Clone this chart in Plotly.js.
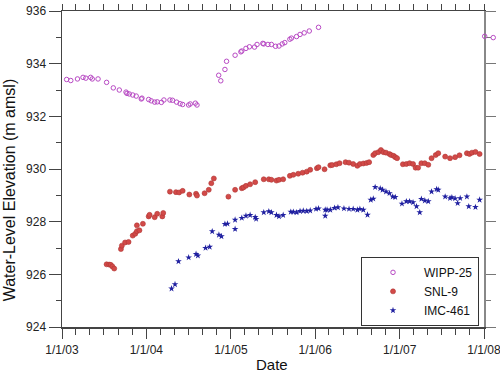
<!DOCTYPE html>
<html>
<head>
<meta charset="utf-8">
<script src="https://cdn.plot.ly/plotly-3.0.1.min.js"></script>
<style>html,body{margin:0;padding:0;background:#fff;}#chart{width:500px;height:372px;}</style>
</head>
<body>
<div id="chart"></div>
<script>
// Dates are given as decimal years, values in m amsl
const wippYears = [2003.056,2003.106,2003.185,2003.252,2003.284,2003.340,2003.360,2003.430,2003.530,2003.610,2003.680,2003.760,2003.770,2003.800,2003.840,2003.880,2003.940,2003.950,2004.030,2004.060,2004.100,2004.130,2004.180,2004.210,2004.280,2004.310,2004.360,2004.400,2004.430,2004.500,2004.520,2004.580,2004.600,2004.857,2004.880,2004.930,2004.950,2005.050,2005.120,2005.130,2005.180,2005.220,2005.280,2005.310,2005.380,2005.390,2005.440,2005.480,2005.530,2005.570,2005.610,2005.640,2005.700,2005.720,2005.780,2005.820,2005.870,2005.930,2006.040,2008.010,2008.110];
const wippVals = [933.40,933.36,933.42,933.48,933.45,933.48,933.42,933.42,933.29,933.08,933.00,932.92,932.87,932.85,932.81,932.77,932.66,932.69,932.64,932.59,932.54,932.55,932.53,932.62,932.62,932.61,932.54,932.48,932.45,932.43,932.47,932.50,932.43,933.56,933.35,933.78,934.09,934.32,934.45,934.48,934.58,934.64,934.63,934.73,934.77,934.75,934.73,934.73,934.66,934.67,934.75,934.80,934.93,934.97,935.03,935.11,935.17,935.24,935.38,935.04,934.99];

const snlYears = [2003.53,2003.56,2003.58,2003.60,2003.62,2003.70,2003.71,2003.75,2003.79,2003.84,2003.87,2003.89,2003.89,2003.92,2003.96,2004.03,2004.04,2004.10,2004.13,2004.19,2004.20,2004.28,2004.35,2004.39,2004.43,2004.51,2004.59,2004.60,2004.69,2004.74,2004.77,2004.80,2004.97,2005.05,2005.13,2005.15,2005.18,2005.23,2005.29,2005.39,2005.45,2005.48,2005.54,2005.57,2005.62,2005.70,2005.74,2005.80,2005.85,2005.90,2005.94,2006.02,2006.04,2006.11,2006.18,2006.20,2006.25,2006.29,2006.36,2006.40,2006.45,2006.50,2006.53,2006.57,2006.61,2006.64,2006.69,2006.71,2006.75,2006.78,2006.81,2006.84,2006.88,2006.90,2006.93,2006.95,2006.97,2007.04,2007.08,2007.12,2007.16,2007.19,2007.22,2007.26,2007.30,2007.34,2007.38,2007.43,2007.46,2007.54,2007.60,2007.66,2007.71,2007.80,2007.83,2007.86,2007.90,2007.95];
const snlVals = [926.38,926.37,926.36,926.30,926.22,926.96,927.09,927.21,927.23,927.47,927.54,927.64,927.86,927.67,927.92,928.20,928.26,928.17,928.30,928.20,928.33,929.14,929.12,929.11,929.17,929.03,929.06,928.99,929.08,929.21,929.46,929.64,928.95,929.21,929.27,929.30,929.36,929.42,929.50,929.61,929.61,929.59,929.56,929.59,929.61,929.74,929.78,929.82,929.86,929.90,929.97,930.03,930.07,929.99,930.14,930.15,930.18,930.22,930.26,930.24,930.19,930.12,930.19,930.21,930.23,930.26,930.53,930.60,930.64,930.72,930.64,930.62,930.57,930.53,930.50,930.45,930.41,930.18,930.19,930.22,930.19,930.05,930.05,930.22,930.22,930.16,930.41,930.53,930.60,930.47,930.41,930.45,930.52,930.60,930.57,930.62,930.65,930.57];

const imcYears = [2004.30,2004.34,2004.38,2004.50,2004.59,2004.61,2004.70,2004.75,2004.78,2004.86,2004.89,2004.93,2004.96,2005.05,2005.05,2005.13,2005.18,2005.23,2005.29,2005.30,2005.39,2005.45,2005.48,2005.54,2005.57,2005.62,2005.71,2005.74,2005.78,2005.82,2005.86,2005.90,2005.94,2006.01,2006.04,2006.12,2006.12,2006.14,2006.18,2006.23,2006.27,2006.34,2006.40,2006.45,2006.50,2006.53,2006.57,2006.62,2006.66,2006.69,2006.71,2006.77,2006.80,2006.84,2006.88,2006.92,2006.95,2007.03,2007.08,2007.12,2007.16,2007.20,2007.24,2007.26,2007.30,2007.34,2007.38,2007.44,2007.46,2007.54,2007.60,2007.62,2007.66,2007.69,2007.72,2007.80,2007.82,2007.90,2007.95];
const imcVals = [925.46,925.62,926.49,926.64,926.77,926.71,927.00,927.04,927.63,927.50,927.44,927.91,927.92,928.07,927.72,928.14,928.22,928.25,928.17,928.10,928.35,928.39,928.35,928.25,928.20,928.25,928.37,928.37,928.35,928.40,928.41,928.40,928.42,928.48,928.50,928.45,928.22,928.45,928.45,928.52,928.54,928.50,928.48,928.48,928.45,928.48,928.45,928.26,928.83,928.87,929.31,929.26,929.21,929.14,929.08,928.95,928.93,928.68,928.77,928.77,928.73,928.58,928.35,928.86,928.80,928.77,929.14,929.23,929.21,928.95,928.89,928.92,928.88,928.70,928.89,928.95,928.58,928.55,928.83];

const seriesNames = ['WIPP-25','SNL-9','IMC-461'];
const xTickVals = ['2003-01-01','2004-01-01','2005-01-01','2006-01-01','2007-01-01','2008-01-01'];
const xTickText = ['1/1/03','1/1/04','1/1/05','1/1/06','1/1/07','1/1/08'];
const yTickVals = [924,926,928,930,932,934,936];
const xStart = '2003-01-01', xEnd = '2008-01-01';
const yRange = [924, 936];

function toDate(y){
  const yr = Math.floor(y);
  const s = Date.UTC(yr,0,1), e = Date.UTC(yr+1,0,1);
  return new Date(s + (y-yr)*(e-s)).toISOString().slice(0,10);
}

const FONT = 'Liberation Sans, Arial, sans-serif';

// geometry: plot frame spans 422 px; paper is a bit wider so that the
// last WIPP-25 readings, taken just after 1/1/08, can show past the frame
const ML = 62, MR = 2, FRAME = 422;
const PAPER_W = 500 - ML - MR;
const frameFrac = FRAME / PAPER_W;
const t0 = Date.parse(xStart + 'T00:00:00Z'), t1 = Date.parse(xEnd + 'T00:00:00Z');
const wideEnd = new Date(t0 + (t1 - t0) / frameFrac).toISOString();

const traces = [
  {x: wippYears.map(toDate), y: wippVals, name: seriesNames[0], type:'scatter', mode:'markers',
   xaxis:'x3', yaxis:'y',
   marker:{symbol:'circle-open', size:4.5, color:'#b84ac4', line:{width:1, color:'#b84ac4'}}},
  // drawn on the mirrored (top/right) axes, which share the exact same ranges,
  // so that those frame axes get rendered
  {x: snlYears.map(toDate), y: snlVals, name: seriesNames[1], type:'scatter', mode:'markers',
   xaxis:'x2', yaxis:'y2',
   marker:{symbol:'circle', size:5, color:'#d24a48', line:{width:0.6, color:'#b03634'}}},
  {x: imcYears.map(toDate), y: imcVals, name: seriesNames[2], type:'scatter', mode:'markers',
   xaxis:'x', yaxis:'y',
   marker:{symbol:'star', size:5, color:'#1f1fa0', line:{width:0}}}
];

const layout = {
  width:500, height:372,
  margin:{l:ML, r:MR, t:11, b:45, pad:0},
  paper_bgcolor:'#fff', plot_bgcolor:'rgba(0,0,0,0)',
  font:{family:FONT, size:12, color:'#222'},
  showlegend:true,
  hovermode:false,
  xaxis:{
    type:'date', range:[xStart, xEnd], domain:[0, frameFrac], anchor:'y',
    tickvals:xTickVals, ticktext:xTickText,
    ticks:'outside', ticklen:10, tickwidth:1, tickcolor:'#444',
    minor:{dtick:'M2', tick0:xStart, ticks:'outside', ticklen:6, tickwidth:1, tickcolor:'#444', showgrid:false},
    showline:true, linecolor:'#444', linewidth:1.5,
    showgrid:false, zeroline:false,
    tickfont:{family:FONT, size:12, color:'#222'},
    ticklabelstandoff:1, ticklabeloverflow:'allow'
  },
  xaxis2:{
    type:'date', range:[xStart, xEnd], overlaying:'x', side:'top', anchor:'y2',
    tickvals:xTickVals, showticklabels:false,
    ticks:'outside', ticklen:6, tickwidth:1, tickcolor:'#444',
    minor:{dtick:'M2', tick0:xStart, ticks:'outside', ticklen:6, tickwidth:1, tickcolor:'#444', showgrid:false},
    showline:true, linecolor:'#444', linewidth:1.5,
    showgrid:false, zeroline:false
  },
  xaxis3:{
    type:'date', range:[xStart, wideEnd], domain:[0, 1], anchor:'y',
    visible:false, showgrid:false, zeroline:false
  },
  yaxis:{
    range:yRange, tickvals:yTickVals, anchor:'x',
    ticks:'outside', ticklen:12, tickwidth:1, tickcolor:'#444',
    minor:{dtick:1, tick0:924, ticks:'outside', ticklen:5, tickwidth:1, tickcolor:'#444', showgrid:false},
    showline:true, linecolor:'#444', linewidth:1.5,
    showgrid:false, zeroline:false,
    tickfont:{family:FONT, size:12, color:'#222'}
  },
  yaxis2:{
    range:yRange, tickvals:yTickVals, overlaying:'y', side:'right', anchor:'x2',
    showticklabels:false,
    ticks:'outside', ticklen:10, tickwidth:1, tickcolor:'#777',
    minor:{dtick:1, tick0:924, ticks:'outside', ticklen:5, tickwidth:1, tickcolor:'#777', showgrid:false},
    showline:true, linecolor:'#888', linewidth:1.5,
    showgrid:false, zeroline:false
  },
  legend:{
    x:(361 - ML) / PAPER_W, y:0.222, xanchor:'left', yanchor:'top',
    bgcolor:'#fff', bordercolor:'#333', borderwidth:1,
    font:{family:FONT, size:12, color:'#111'},
    itemwidth:52, tracegroupgap:0
  },
  annotations:[
    {text:'Water-Level Elevation (m amsl)', xref:'paper', yref:'paper', x:(9.5 - ML) / PAPER_W, y:0.434,
     textangle:-90, showarrow:false, xanchor:'center', yanchor:'middle',
     font:{family:FONT, size:16, color:'#111'}},
    {text:'Date', xref:'paper', yref:'paper', x:(272 - ML) / PAPER_W, y:-0.12, showarrow:false,
     xanchor:'center', yanchor:'middle', font:{family:FONT, size:15, color:'#111'}}
  ]
};

Plotly.newPlot('chart', traces, layout, {staticPlot:true, displayModeBar:false});
</script>
</body>
</html>
